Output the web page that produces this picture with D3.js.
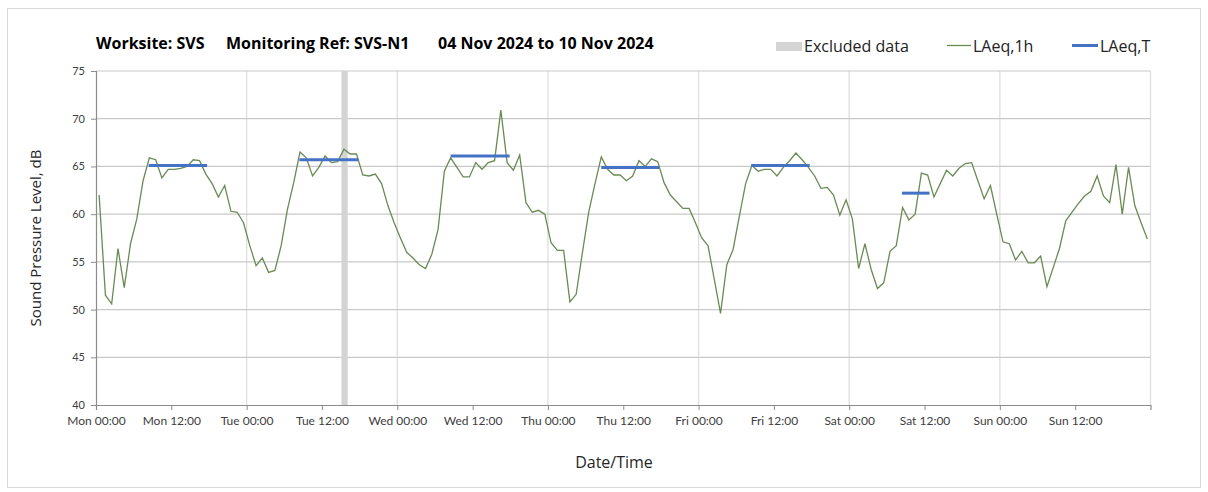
<!DOCTYPE html>
<html>

<head>
    <meta charset="UTF-8">
    <style>
        body { margin: 0; background: #fff; }
        text { font-family: Lato, "Open Sans", sans-serif; }
        .big { font-family: "Open Sans", Lato, sans-serif; }
    </style>
</head>

<body>
    <svg></svg>
    <script src="https://d3js.org/d3.v7.min.js"></script>
    <script>
        let width = 1208,
            height = 492;

        // hourly LAeq,1h values, Mon 00:00 .. Sun 23:00
        let laeq1h = [
            62.0, 51.5, 50.6, 56.4, 52.3, 56.9, 59.5, 63.5, 65.9, 65.7, 63.8, 64.7, 64.7, 64.8, 65.0, 65.7, 65.6, 64.2, 63.2, 61.8, 63.0, 60.3, 60.2, 59.1,
            56.7, 54.6, 55.4, 53.9, 54.1, 56.7, 60.5, 63.3, 66.5, 65.9, 64.0, 64.9, 66.1, 65.4, 65.5, 66.8, 66.3, 66.3, 64.1, 64.0, 64.2, 63.2, 60.9, 59.1,
            57.5, 56.0, 55.4, 54.7, 54.3, 55.8, 58.4, 64.5, 65.9, 64.9, 63.9, 63.9, 65.4, 64.7, 65.4, 65.6, 70.9, 65.4, 64.6, 66.2, 61.2, 60.2, 60.4, 60.0,
            57.0, 56.2, 56.2, 50.8, 51.6, 56.0, 60.2, 63.2, 66.0, 64.7, 64.1, 64.1, 63.5, 64.0, 65.6, 65.0, 65.8, 65.5, 63.3, 62.0, 61.3, 60.6, 60.6, 59.1,
            57.5, 56.7, 53.2, 49.6, 54.7, 56.3, 59.8, 63.2, 65.1, 64.5, 64.7, 64.7, 64.0, 64.9, 65.6, 66.4, 65.7, 64.9, 64.0, 62.7, 62.8, 62.0, 59.9, 61.5,
            59.5, 54.3, 56.9, 54.2, 52.2, 52.8, 56.1, 56.7, 60.7, 59.4, 60.0, 64.3, 64.1, 61.8, 63.2, 64.6, 64.0, 64.8, 65.3, 65.4, 63.5, 61.6, 63.0, 60.0,
            57.1, 56.9, 55.2, 56.1, 54.9, 54.9, 55.6, 52.4, 54.4, 56.4, 59.3, 60.2, 61.1, 61.9, 62.4, 64.0, 61.9, 61.2, 65.2, 60.0, 64.9, 60.9, 59.1, 57.4
        ];

        // LAeq,T periods (hours from Mon 00:00)
        let periodStart = [8.4, 32.4, 56.5, 80.5, 104.4, 128.4];
        let periodEnd = [17.7, 41.8, 65.9, 89.7, 113.7, 132.8];
        let laeqT = [65.1, 65.7, 66.1, 64.9, 65.1, 62.2];

        // excluded data (hours from Mon 00:00)
        let excluded = [[39.1, 40.1]];

        let days = ["Mon", "Tue", "Wed", "Thu", "Fri", "Sat", "Sun"];
        let yTicks = [40, 45, 50, 55, 60, 65, 70, 75];

        let svg = d3.select("svg")
            .attr("width", width)
            .attr("height", height);

        svg.append("rect")
            .attr("x", 7.5)
            .attr("y", 8.5)
            .attr("width", 1193)
            .attr("height", 479)
            .attr("fill", "none")
            .attr("stroke", "#d9d9d9");

        let x = d3.scaleLinear()
            .domain([0, 168])
            .range([96, 1150.5]);

        let y = d3.scaleLinear()
            .domain([40, 75])
            .range([405, 71]);

        // gridlines
        svg.append("g")
            .selectAll("line")
            .data(d3.range(24, 169, 24))
            .enter()
            .append("line")
            .attr("x1", d => x(d))
            .attr("x2", d => x(d))
            .attr("y1", y(75))
            .attr("y2", y(40))
            .attr("stroke", "#dedede")
            .attr("stroke-width", 1.3);

        svg.append("g")
            .selectAll("line")
            .data(yTicks.slice(1))
            .enter()
            .append("line")
            .attr("x1", x(0))
            .attr("x2", x(168))
            .attr("y1", d => y(d))
            .attr("y2", d => y(d))
            .attr("stroke", "#c9c9c9")
            .attr("stroke-width", 1.2);

        // excluded data
        svg.append("g")
            .selectAll("rect")
            .data(excluded)
            .enter()
            .append("rect")
            .attr("x", d => x(d[0]))
            .attr("width", d => x(d[1]) - x(d[0]))
            .attr("y", y(75))
            .attr("height", y(40) - y(75))
            .attr("fill", "#d4d4d4");

        // axes
        let yAxis = svg.append("g")
            .attr("transform", "translate(" + x(0) + ",0)")
            .call(d3.axisLeft(y).tickValues(yTicks).tickSize(5).tickPadding(6));

        let xAxis = svg.append("g")
            .attr("transform", "translate(0," + y(40) + ")")
            .call(d3.axisBottom(x)
                .tickValues(d3.range(0, 168, 12))
                .tickSize(5)
                .tickPadding(6)
                .tickFormat(d => days[Math.floor(d / 24)] + " " + (d % 24 == 0 ? "00:00" : "12:00")));

        [yAxis, xAxis].forEach(a => {
            a.select(".domain").attr("stroke", "#8c8c8c").attr("stroke-width", 1.2);
            a.selectAll(".tick line").attr("stroke", "#8c8c8c");
            a.selectAll(".tick text")
                .attr("fill", "#404040")
                .style("font-size", "12px");
        });
        yAxis.selectAll(".tick text").style("font-size", "11px");

        // LAeq,1h
        let line = d3.line()
            .x((d, i) => x(i + 0.5))
            .y(d => y(d));

        svg.append("path")
            .datum(laeq1h)
            .attr("d", line)
            .attr("fill", "none")
            .attr("stroke", "#6a8a55")
            .attr("stroke-width", 1.3);

        // LAeq,T
        svg.append("g")
            .selectAll("line")
            .data(laeqT)
            .enter()
            .append("line")
            .attr("x1", (d, i) => x(periodStart[i]))
            .attr("x2", (d, i) => x(periodEnd[i]))
            .attr("y1", d => y(d))
            .attr("y2", d => y(d))
            .attr("stroke", "#4472c4")
            .attr("stroke-width", 3);

        // title
        let title = svg.append("text")
            .attr("class", "big")
            .attr("y", 49)
            .attr("fill", "#000")
            .style("font-size", "16px")
            .style("font-weight", "bold");
        title.append("tspan").attr("x", 96).text("Worksite: SVS");
        title.append("tspan").attr("x", 226).text("Monitoring Ref: SVS-N1");
        title.append("tspan").attr("x", 438).text("04 Nov 2024 to 10 Nov 2024");

        // legend
        let legend = svg.append("g");
        legend.append("rect")
            .attr("x", 776).attr("y", 42)
            .attr("width", 26).attr("height", 9)
            .attr("fill", "#d4d4d4");
        legend.append("text")
            .attr("class", "big")
            .attr("x", 804).attr("y", 52)
            .attr("fill", "#222")
            .style("font-size", "16px")
            .text("Excluded data");
        legend.append("line")
            .attr("x1", 947).attr("x2", 971)
            .attr("y1", 45.5).attr("y2", 45.5)
            .attr("stroke", "#6a8a55").attr("stroke-width", 1.3);
        legend.append("text")
            .attr("class", "big")
            .attr("x", 973).attr("y", 52)
            .attr("fill", "#222")
            .style("font-size", "16px")
            .text("LAeq,1h");
        legend.append("line")
            .attr("x1", 1072).attr("x2", 1098)
            .attr("y1", 45.5).attr("y2", 45.5)
            .attr("stroke", "#4472c4").attr("stroke-width", 3);
        legend.append("text")
            .attr("class", "big")
            .attr("x", 1100).attr("y", 52)
            .attr("fill", "#222")
            .style("font-size", "16px")
            .text("LAeq,T");

        // axis titles
        svg.append("text")
            .attr("class", "big")
            .attr("transform", "translate(41,238) rotate(-90)")
            .attr("text-anchor", "middle")
            .attr("fill", "#262626")
            .style("font-size", "15px")
            .text("Sound Pressure Level, dB");

        svg.append("text")
            .attr("class", "big")
            .attr("x", 614)
            .attr("y", 468)
            .attr("text-anchor", "middle")
            .attr("fill", "#262626")
            .style("font-size", "16px")
            .text("Date/Time");
    </script>
</body>

</html>
